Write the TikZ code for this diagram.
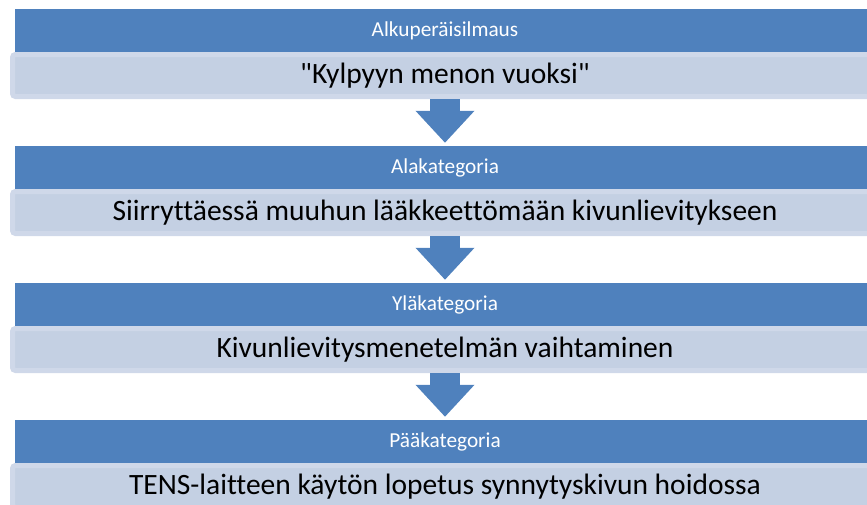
\documentclass[tikz,border=0pt]{standalone}
\usepackage{fontspec}
\setmainfont{Carlito}[Ligatures={TeXOff,NoCommon}]
\usetikzlibrary{arrows.meta}

\definecolor{barblue}{RGB}{79,129,189}
\definecolor{boxfill}{RGB}{196,208,227}
\definecolor{boxedge}{RGB}{207,216,233}

\begin{document}
\begin{tikzpicture}[x=1pt,y=-1pt,
  headbar/.style={fill=barblue,text=white,minimum width=860pt,minimum height=43pt,inner sep=0pt,font=\fontsize{21.3}{24}\selectfont},
  bodybox/.style={fill=boxfill,draw=boxedge,line width=5pt,rounded corners=3pt,minimum width=865pt,minimum height=42pt,inner sep=0pt,font=\fontsize{29.5}{32}\selectfont},
  flowarrow/.style={draw=barblue,line width=30pt,-{Triangle[length=32pt,width=57pt]},shorten >=3pt}]
\useasboundingbox (0,0) rectangle (867,504);
\clip (0,0) rectangle (867,504);

\foreach \i/\head/\body in {1/Alkuperäisilmaus/{"Kylpyyn menon vuoksi"},
  2/Alakategoria/{Siirryttäessä muuhun lääkkeettömään kivunlievitykseen},
  3/Yläkategoria/{Kivunlievitysmenetelmän vaihtaminen},
  4/Pääkategoria/{TENS-laitteen käytön lopetus synnytyskivun hoidossa}}{
  \node[headbar] (bar\i) at (445,{30.5+137*(\i-1)}) {\head};
  \node[bodybox] (box\i) at (445,{75.5+137*(\i-1)}) {\body};
}

\foreach \i in {1,2,3}{
  \pgfmathtruncatemacro{\j}{\i+1}
  \draw[flowarrow] (box\i.south) -- (bar\j.north);
}

\end{tikzpicture}
\end{document}
